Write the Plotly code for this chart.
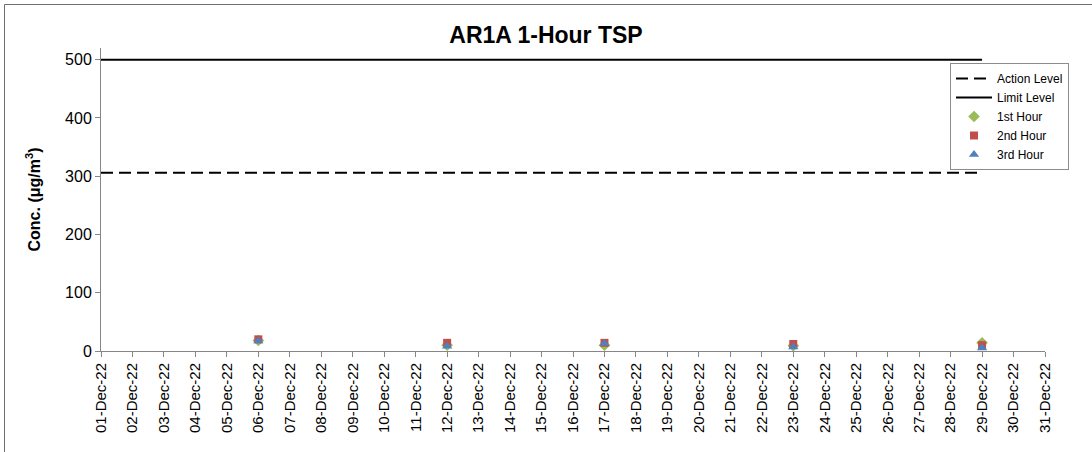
import plotly.graph_objects as go

# ---- data ----
dates = ["2022-12-06", "2022-12-12", "2022-12-17", "2022-12-23", "2022-12-29"]
hour1 = [18, 10, 10, 9, 14]
hour2 = [20, 14, 14, 12, 10]
hour3 = [17, 8, 13, 7, 5]
level_dates = ["2022-12-01", "2022-12-29"]
action_level = [306, 306]
limit_level = [500, 500]
y_ticks = [0, 100, 200, 300, 400, 500]

W, H = 1092, 452
ML, MR, MT, MB = 101, 47, 48, 101
PW, PH = W - ML - MR, H - MT - MB

def px_x(x):
    return (x - ML) / PW

def px_y(y):
    return (H - MB - y) / PH

fig = go.Figure()
fig.add_trace(go.Scatter(x=level_dates, y=action_level, mode="lines", name="Action Level",
                         line=dict(color="black", width=2, dash="12px,6px")))
fig.add_trace(go.Scatter(x=level_dates, y=limit_level, mode="lines", name="Limit Level",
                         line=dict(color="black", width=2)))
fig.add_trace(go.Scatter(x=dates, y=hour1, mode="markers", name="1st Hour",
                         marker=dict(symbol="diamond", color="#9BBB59", size=9)))
fig.add_trace(go.Scatter(x=dates, y=hour2, mode="markers", name="2nd Hour",
                         marker=dict(symbol="square", color="#C0504D", size=8)))
fig.add_trace(go.Scatter(x=dates, y=hour3, mode="markers", name="3rd Hour",
                         marker=dict(symbol="triangle-up", color="#4F81BD", size=9)))

fig.update_layout(
    width=W, height=H,
    margin=dict(l=ML, r=MR, t=MT, b=MB, autoexpand=False),
    paper_bgcolor="white", plot_bgcolor="white",
    font=dict(family="Liberation Sans, Arial, sans-serif", color="black"),
    title=dict(text="<b>AR1A 1-Hour TSP</b>", x=0.5, xref="container", xanchor="center",
               y=1 - 35 / H, yanchor="middle", font=dict(size=23)),
    showlegend=True,
    legend=dict(x=px_x(950), y=px_y(63), xanchor="left", yanchor="top",
                bgcolor="white", bordercolor="#8c8c8c", borderwidth=1,
                font=dict(size=12), itemwidth=36, tracegroupgap=0),
    xaxis=dict(type="date", range=["2022-12-01", "2022-12-31"], dtick=86400000,
               tick0="2022-12-01", tickformat="%d-%b-%y", tickangle=-90,
               showgrid=False, zeroline=False, showline=True, linecolor="#868686",
               linewidth=1, ticks="outside", ticklen=5, tickcolor="#868686",
               tickfont=dict(size=15)),
    yaxis=dict(range=[0, 520], tickvals=y_ticks, showgrid=False, zeroline=False,
               showline=True, linecolor="#868686", linewidth=1, ticks="outside",
               ticklen=5, tickcolor="#868686", tickfont=dict(size=16),
               title=dict(text="<b>Conc. (μg/m<sup>3</sup>)</b>", font=dict(size=16), standoff=20)),
)

# partial outer frame (left and top)
fig.add_shape(type="line", xref="paper", yref="paper",
              x0=px_x(4.5), x1=px_x(4.5), y0=px_y(452), y1=px_y(4.5),
              line=dict(color="#6e6e6e", width=1))
fig.add_shape(type="line", xref="paper", yref="paper",
              x0=px_x(4.5), x1=px_x(1092), y0=px_y(4.5), y1=px_y(4.5),
              line=dict(color="#6e6e6e", width=1))

fig.write_html("out.html", config={"displayModeBar": False},
               post_script="document.body.style.margin='0';")
